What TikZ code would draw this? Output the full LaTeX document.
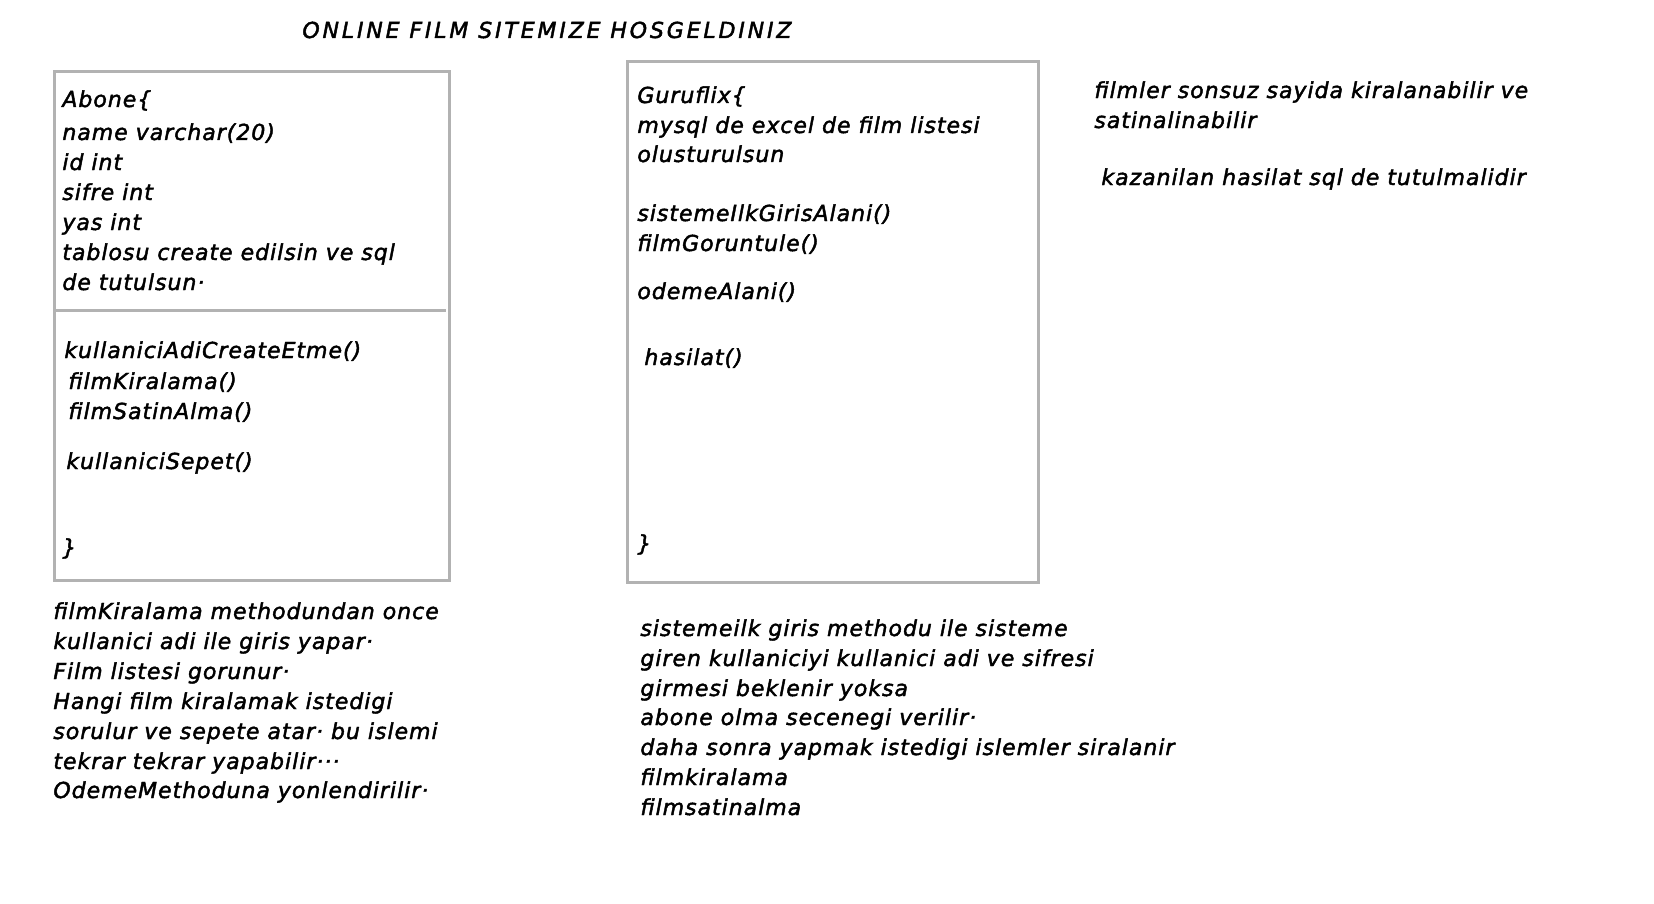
\documentclass[tikz,border=0pt]{standalone}
\usepackage{fontspec}
\setmainfont{DejaVu Sans}[ItalicFeatures={FakeBold=2, LetterSpace=4.5}]
\newfontfamily\titlefont{DejaVu Sans Oblique}[FakeBold=2, LetterSpace=13]
\usetikzlibrary{positioning}
\tikzset{
  note/.style={anchor=base west, inner sep=0pt, font=\fontsize{11}{15}\selectfont\itshape},
  umlbox/.style={draw=black!30, line width=1.5pt},
}
\begin{document}
\begin{tikzpicture}[x=0.5pt, y=-0.5pt]
	\useasboundingbox[fill=white] (0,0) rectangle (1654,904);
	\node[note, font=\fontsize{11}{15}\titlefont] (title) at (302,38) {ONLINE FILM SITEMIZE HOSGELDINIZ};
	% Abone
	\draw[umlbox] (54,72) rectangle (449,580);
	\draw[umlbox] (54,310) -- (446,310);
	\foreach \x/\y/\t [count=\i] in {62/107/Abone\{, 62/140/name varchar(20), 62/170/id int,
		62/200/sifre int, 62/230/yas int, 62/260/tablosu create edilsin ve sql, 62/290/de tutulsun·,
		64/358/kullaniciAdiCreateEtme(), 68/389/filmKiralama(), 68/419/filmSatinAlma(),
		66/469/kullaniciSepet(), 62/555/\}}
		\node[note] (abone\i) at (\x,\y) {\t};
	% Guruflix
	\draw[umlbox] (627,62) rectangle (1038,582);
	\foreach \x/\y/\t [count=\i] in {637/103/Guruflix\{, 637/133/mysql de excel de film listesi,
		637/162/olusturulsun, 637/221/sistemeIlkGirisAlani(), 637/251/filmGoruntule(),
		637/299/odemeAlani(), 644/365/hasilat(), 637/551/\}}
		\node[note] (guru\i) at (\x,\y) {\t};
	% notlar
	\node[note] (kural1) at (1094,98) {filmler sonsuz sayida kiralanabilir ve};
	\node[note] (kural2) at (1094,128) {satinalinabilir};
	\node[note] (kural3) at (1101,185) {kazanilan hasilat sql de tutulmalidir};
	\foreach \y/\t [count=\i] in {619/filmKiralama methodundan once, 649/kullanici adi ile giris yapar·,
		679/Film listesi gorunur·, 709/Hangi film kiralamak istedigi, 739/sorulur ve sepete atar· bu islemi,
		769/tekrar tekrar yapabilir···, 798/OdemeMethoduna yonlendirilir·}
		\node[note] (akis\i) at (53,\y) {\t};
	\foreach \y/\t [count=\i] in {636/sistemeilk giris methodu ile sisteme, 666/giren kullaniciyi kullanici adi ve sifresi,
		696/girmesi beklenir yoksa, 725/abone olma secenegi verilir·, 755/daha sonra yapmak istedigi islemler siralanir,
		785/filmkiralama, 815/filmsatinalma}
		\node[note] (giris\i) at (640,\y) {\t};
\end{tikzpicture}
\end{document}
